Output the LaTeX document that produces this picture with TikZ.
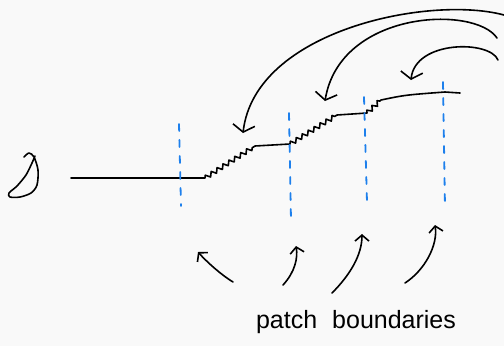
\documentclass[tikz,border=0pt]{standalone}
\usepackage{fontspec}
\setmainfont{Liberation Sans}
\usetikzlibrary{arrows.meta, decorations.pathmorphing}
\definecolor{patchblue}{RGB}{30,128,236}
\definecolor{paper}{RGB}{249,249,249}

\begin{document}
\begin{tikzpicture}[x=1pt, y=-1pt, line cap=round, line join=round,
	ink/.style={line width=1.6pt, black},
	boundary/.style={line width=1.8pt, patchblue, dash pattern=on 7pt off 9pt},
	bigarrow/.style={ink, -{Straight Barb[length=7pt, width=22pt]}},
	smallarrow/.style={ink, -{Straight Barb[length=6pt, width=14pt]}},
	wiggle/.style={decoration={zigzag, segment length=7pt, amplitude=2.2pt}}]

	% paper
	\fill[paper] (0,0) rectangle (504,346);
	\useasboundingbox (0,0) rectangle (504,346);

	% curly glyph on the left
	\draw[ink] plot [smooth] coordinates {(24,157) (29,153) (34,157) (38,170) (37,185) (31,193) (20,197) (10,197) (9,193) (17,186) (26,175) (32,163) (35,156)};

	% the profile
	\coordinate (flat0) at (71,178);
	\coordinate (rise1a) at (205,178);
	\coordinate (rise1b) at (255,146);
	\coordinate (rise2a) at (290,144);
	\coordinate (rise2b) at (337,115);
	\coordinate (rise3a) at (367,113);
	\coordinate (rise3b) at (381,100);
	\coordinate (top0) at (445,92);
	\coordinate (top1) at (460,93);
	\draw[ink] (flat0) -- (rise1a) decorate[wiggle] {-- (rise1b)} -- (rise2a)
		decorate[wiggle] {-- (rise2b)} -- (rise3a) decorate[wiggle] {-- (rise3b)}
		.. controls (405,95) .. (top0) -- (top1);

	% patch boundaries
	\coordinate (b1top) at (179,124);
	\coordinate (b1bot) at (181,206);
	\coordinate (b2top) at (289,113);
	\coordinate (b2bot) at (291,220);
	\coordinate (b3top) at (364,97);
	\coordinate (b3bot) at (367,202);
	\coordinate (b4top) at (443,82);
	\coordinate (b4bot) at (445,207);
	\foreach \b in {b1, b2, b3, b4}
		\draw[boundary] (\b top) -- (\b bot);

	% arrows from the right
	\coordinate (from1) at (504,15);
	\coordinate (to1) at (243,133);
	\coordinate (from2) at (497,38);
	\coordinate (to2) at (325,101);
	\coordinate (from3) at (498,60);
	\coordinate (to3) at (411,80);
	\draw[bigarrow] (from1) .. controls (430,-5) and (255,30) .. (to1);
	\draw[bigarrow] (from2) .. controls (475,5) and (340,10) .. (to2);
	\draw[bigarrow] (from3) .. controls (490,40) and (415,40) .. (to3);

	% label
	\node[font=\fontsize{25}{30}\selectfont, anchor=base, inner sep=0pt] (label) at (356,328) {patch\hspace{0.6em}boundaries};

	% arrows up from the label
	\coordinate (up1) at (233,282);
	\coordinate (up1tip) at (198,252);
	\coordinate (up2) at (283,285);
	\coordinate (up2tip) at (296,246);
	\coordinate (up3) at (332,293);
	\coordinate (up3tip) at (362,234);
	\coordinate (up4) at (405,283);
	\coordinate (up4tip) at (435,225);
	\draw[smallarrow] (up1) .. controls (220,274) and (206,261) .. (up1tip);
	\draw[smallarrow] (up2) .. controls (295,272) and (298,258) .. (up2tip);
	\draw[smallarrow] (up3) .. controls (350,275) and (362,255) .. (up3tip);
	\draw[smallarrow] (up4) .. controls (425,270) and (438,245) .. (up4tip);

\end{tikzpicture}
\end{document}
